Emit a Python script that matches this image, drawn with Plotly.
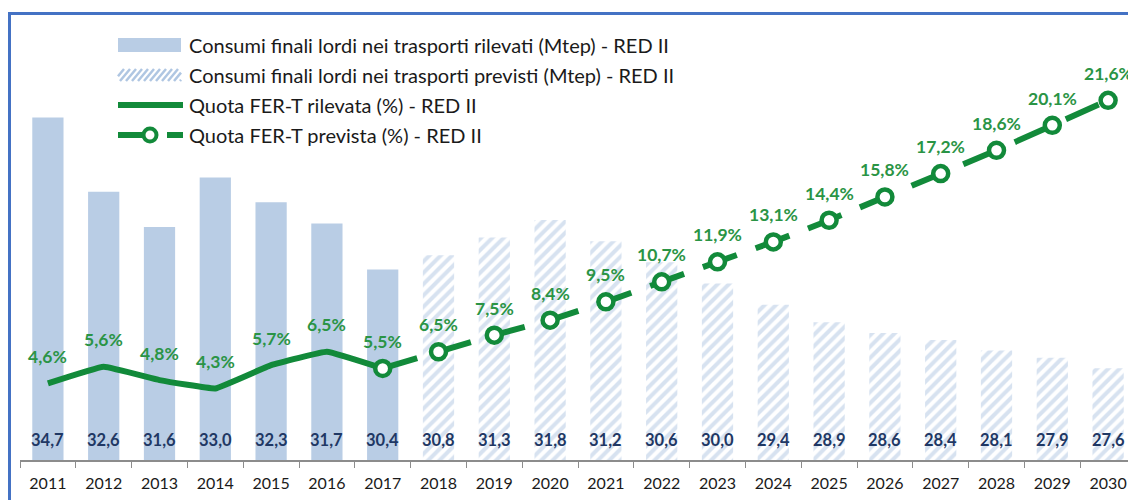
import plotly.graph_objects as go

years_obs = ["2011", "2012", "2013", "2014", "2015", "2016", "2017"]
years_fut = ["2018", "2019", "2020", "2021", "2022", "2023", "2024",
             "2025", "2026", "2027", "2028", "2029", "2030"]
cons_obs = [34.7, 32.6, 31.6, 33.0, 32.3, 31.7, 30.4]
cons_fut = [30.8, 31.3, 31.8, 31.2, 30.6, 30.0, 29.4, 28.9, 28.6, 28.4, 28.1, 27.9, 27.6]
quota_obs = [4.6, 5.6, 4.8, 4.3, 5.7, 6.5, 5.5]
quota_fut_years = ["2017"] + years_fut
quota_fut = [5.5, 6.5, 7.5, 8.4, 9.5, 10.7, 11.9, 13.1, 14.4, 15.8, 17.2, 18.6, 20.1, 21.6]

names = [
    "Consumi finali lordi nei trasporti rilevati (Mtep) - RED II",
    "Consumi finali lordi nei trasporti previsti (Mtep) - RED II",
    "Quota FER-T rilevata (%) - RED II",
    "Quota FER-T prevista (%) - RED II",
]

FONT = "Lato"
BAR_BLUE = "#B9CDE5"
HATCH_BLUE = "#AFC6E2"
GREEN = "#128A3A"
LABEL_GREEN = "#2A9445"
NAVY = "#1F3864"
TEXT = "#1a1a1a"

W, H = 1136, 500
OFF = 8  # page body margin
ML, MR, MT, MB = 12, 8, 12, 48
plot_w = W - ML - MR
plot_h = H - MT - MB
categories = years_obs + years_fut


def px(xs):
    """screen x -> paper x"""
    return (xs - OFF - ML) / plot_w


def py(ys):
    """screen y -> paper y"""
    return (H - MB - (ys - OFF)) / plot_h


fig = go.Figure()

fig.add_trace(go.Bar(
    x=years_obs, y=cons_obs, name=names[0], width=0.56,
    marker=dict(color=BAR_BLUE, line=dict(width=0)), showlegend=False,
))
fig.add_trace(go.Bar(
    x=years_fut, y=cons_fut, name=names[1], width=0.56, showlegend=False,
    marker=dict(color="white", line=dict(width=0),
                pattern=dict(shape="/", fgcolor=HATCH_BLUE, bgcolor="white",
                             size=8, solidity=0.5)),
))
fig.add_trace(go.Scatter(
    x=years_obs, y=quota_obs, name=names[2], yaxis="y2", mode="lines",
    line=dict(color=GREEN, width=6, shape="spline", smoothing=0.25), showlegend=False,
))
fig.add_trace(go.Scatter(
    x=quota_fut_years, y=quota_fut, name=names[3], yaxis="y2", mode="lines+markers",
    line=dict(color=GREEN, width=6, dash="36px,20px"), showlegend=False,
    marker=dict(symbol="circle", size=15, color="white",
                line=dict(color=GREEN, width=4.5)),
))

annotations = []
for x, v in zip(categories, cons_obs + cons_fut):
    annotations.append(dict(
        x=categories.index(x), y=0, xref="x", yref="y domain", yanchor="middle", yshift=20,
        text=f"{v:.1f}".replace(".", ","), showarrow=False,
        font=dict(family=FONT, size=16.5, color=NAVY, weight="bold"),
    ))
for x, v in zip(categories, quota_obs + quota_fut[1:]):
    annotations.append(dict(
        x=categories.index(x), y=v, xref="x", yref="y2", yanchor="middle", yshift=27,
        text=f"{v:.1f}%".replace(".", ","), showarrow=False,
        font=dict(family=FONT, size=17.5, color=LABEL_GREEN, weight="bold"),
    ))

# custom legend (symbols drawn as shapes, labels as text)
leg_x0, leg_x1, text_x = 118, 181, 187
rows = [45, 75, 105, 135]
for name, ry in zip(names, rows):
    annotations.append(dict(
        x=px(text_x), y=py(ry), xref="paper", yref="paper", xanchor="left",
        yanchor="middle", text=name, showarrow=False,
        font=dict(family=FONT, size=20, color=TEXT),
    ))

shapes = []
# solid bar symbol
shapes.append(dict(type="rect", xref="paper", yref="paper",
                   x0=px(leg_x0), x1=px(leg_x1), y0=py(rows[0] + 7), y1=py(rows[0] - 7),
                   fillcolor=BAR_BLUE, line=dict(width=0)))
# hatched bar symbol
hy0, hy1 = rows[1] + 6, rows[1] - 6
step, slant = 6, 10
xs = leg_x0 - slant
while xs < leg_x1:
    xa, ya, xb, yb = xs, hy0, xs + slant, hy1
    if xa < leg_x0:
        ya = hy0 - (leg_x0 - xa) / slant * (hy0 - hy1)
        xa = leg_x0
    if xb > leg_x1:
        yb = hy0 - (leg_x1 - xs) / slant * (hy0 - hy1)
        xb = leg_x1
    if xb > xa:
        shapes.append(dict(type="line", xref="paper", yref="paper",
                           x0=px(xa), y0=py(ya), x1=px(xb), y1=py(yb),
                           line=dict(color=HATCH_BLUE, width=2.5)))
    xs += step
# solid line symbol
shapes.append(dict(type="line", xref="paper", yref="paper",
                   x0=px(leg_x0), x1=px(leg_x1 + 2), y0=py(rows[2]), y1=py(rows[2]),
                   line=dict(color=GREEN, width=6)))
# dashed line with marker symbol
for a, b in [(leg_x0, 146), (167, leg_x1 + 2)]:
    shapes.append(dict(type="line", xref="paper", yref="paper",
                       x0=px(a), x1=px(b), y0=py(rows[3]), y1=py(rows[3]),
                       line=dict(color=GREEN, width=6)))
shapes.append(dict(type="circle", xref="paper", yref="paper",
                   x0=px(150 - 6.5), x1=px(150 + 6.5), y0=py(rows[3] + 6.5),
                   y1=py(rows[3] - 6.5), fillcolor="white",
                   line=dict(color=GREEN, width=4)))
# chart frame
shapes.append(dict(
    type="rect", xref="paper", yref="paper",
    x0=px(9.5), x1=1.2, y0=-0.5, y1=py(13.5),
    line=dict(color="#4472C4", width=3), fillcolor="rgba(0,0,0,0)", layer="above",
))

y_min = 25
px_per_unit = 35.3
y2_px_per_unit = 16.65

fig.update_layout(
    width=W, height=H,
    margin=dict(l=ML, r=MR, t=MT, b=MB, autoexpand=False),
    paper_bgcolor="white", plot_bgcolor="white",
    barmode="overlay",
    separators=",.",
    font=dict(family=FONT, size=16, color=TEXT),
    showlegend=False,
    xaxis=dict(
        type="category", categoryorder="array", categoryarray=categories,
        range=[-0.5, len(categories) - 0.5], automargin=False,
        showline=True, linecolor="#8c8c8c", linewidth=1.5,
        ticks="outside", ticklen=6, tickcolor="#8c8c8c", tickson="boundaries",
        showgrid=False, tickangle=0,
        tickfont=dict(family=FONT, size=16, color=TEXT),
        ticklabelstandoff=8,
    ),
    yaxis=dict(range=[y_min, y_min + plot_h / px_per_unit], visible=False,
               showgrid=False),
    yaxis2=dict(range=[0, plot_h / y2_px_per_unit], overlaying="y", visible=False,
                showgrid=False),
    annotations=annotations,
    shapes=shapes,
)

fig.write_html("out.html")
